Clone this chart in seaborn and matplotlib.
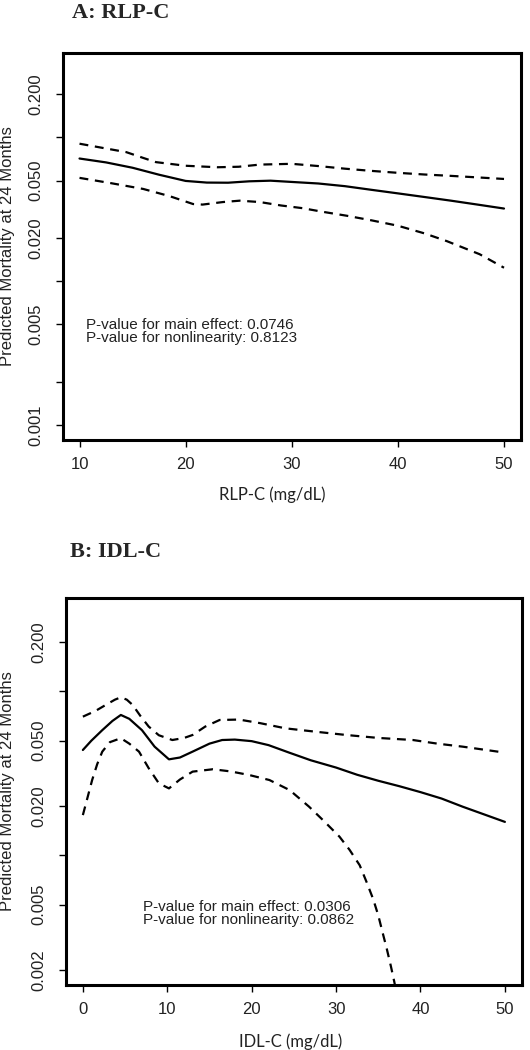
import numpy as np
import pandas as pd
import matplotlib
matplotlib.use('Agg')
import matplotlib.pyplot as plt
import seaborn as sns

# Panel A: RLP-C spline (estimate and 95% band)
rlp_x = [10, 12.5, 15, 17.5, 20, 22, 24, 26, 28, 30, 32.5, 35, 37.5, 40, 42.5, 45, 47.5, 50]
rlp_fit = [0.0713, 0.067, 0.0615, 0.055, 0.0498, 0.0485, 0.0484, 0.0495, 0.0500, 0.0490,
           0.0478, 0.0458, 0.0432, 0.0408, 0.0385, 0.0363, 0.0341, 0.032]
rlp_up_x = [10, 12, 14.4, 16, 17.2, 20, 23, 25, 27, 30, 32.5, 35, 37.5, 40, 42.5, 45, 47.5, 50]
rlp_up = [0.0904, 0.085, 0.079, 0.072, 0.0673, 0.0635, 0.062, 0.0625, 0.0647, 0.0655,
          0.0632, 0.0606, 0.0585, 0.0567, 0.0552, 0.054, 0.0527, 0.0514]
rlp_lo_x = [10, 13, 16, 18.5, 20.7, 21.6, 23.5, 25.1, 27, 29, 31, 33, 35.2, 37.5, 40, 42.5,
            44.6, 47.7, 50]
rlp_lo = [0.0523, 0.048, 0.0438, 0.039, 0.0344, 0.0341, 0.0355, 0.0363, 0.0355, 0.0336,
          0.0322, 0.0303, 0.0285, 0.0265, 0.0243, 0.0215, 0.019, 0.0154, 0.0124]

# Panel B: IDL-C spline
idl_x = [0, 1, 2.3, 3.5, 4.5, 5.5, 7.0, 8.5, 10.2, 11.5, 13, 15, 16.5, 18, 20, 22, 24.5,
         27, 30, 32.5, 35, 37.5, 40, 42.5, 45, 47.5, 50]
idl_fit = [0.0439, 0.050, 0.058, 0.066, 0.0718, 0.068, 0.058, 0.046, 0.0385, 0.0395, 0.0429,
           0.048, 0.0505, 0.0508, 0.0497, 0.047, 0.0422, 0.038, 0.0343, 0.031, 0.0285,
           0.0264, 0.0243, 0.0222, 0.0198, 0.0178, 0.016]
idl_up_x = [0, 1.5, 2.7, 3.8, 4.5, 5.2, 5.9, 6.8, 7.8, 9, 10.6, 12, 13, 14.5, 16.2, 18.5,
            21, 24, 27.5, 31.2, 35, 39.1, 42, 45, 50]
idl_up = [0.0701, 0.076, 0.0826, 0.089, 0.092, 0.089, 0.0826, 0.071, 0.061, 0.054, 0.0505,
          0.052, 0.0542, 0.061, 0.0669, 0.0673, 0.064, 0.0595, 0.0568, 0.0542, 0.052,
          0.0505, 0.048, 0.046, 0.0423]
idl_lo_x = [0, 0.5, 1.1, 1.7, 2.3, 3.2, 4.5, 5.5, 6.65, 7.8, 9.0, 10.2, 11.5, 13, 15.4,
            17.5, 19.7, 22.1, 24.5, 26.8, 28.5, 30.4, 31.6, 32.8, 33.6, 34.4, 35.0, 35.5,
            36.0, 36.5, 36.9, 37.1]
idl_lo = [0.0176, 0.022, 0.0288, 0.036, 0.0429, 0.049, 0.0518, 0.048, 0.0429, 0.034, 0.0275,
          0.0256, 0.029, 0.0324, 0.0335, 0.0325, 0.0309, 0.0288, 0.025, 0.0198, 0.0163,
          0.013, 0.0108, 0.0087, 0.0069, 0.0054, 0.0043, 0.0034, 0.0027, 0.0021, 0.00169,
          0.0015]

ticks_a = [0.001, 0.002, 0.005, 0.01, 0.02, 0.05, 0.1, 0.2]
labels_a = ['0.001', '', '0.005', '', '0.020', '0.050', '', '0.200']
ticks_b = [0.002, 0.005, 0.01, 0.02, 0.05, 0.1, 0.2]
labels_b = ['0.002', '0.005', '', '0.020', '0.050', '', '0.200']

sns.set_style('white')
plt.rcParams['font.family'] = ['Liberation Sans', 'DejaVu Sans']

fig = plt.figure(figsize=(5.3, 10.5), dpi=100)
ax_a = fig.add_axes([0.118, 0.581, 0.865, 0.3686])
ax_b = fig.add_axes([0.1245, 0.0619, 0.860, 0.3686])


def draw_panel(ax, x, fit, up_x, up, lo_x, lo):
    sns.lineplot(x=x, y=fit, ax=ax, color='black', lw=1.6, sort=False)
    sns.lineplot(x=up_x, y=up, ax=ax, color='black', lw=1.6, sort=False, dashes=False,
                 linestyle=(0, (4, 3)))
    sns.lineplot(x=lo_x, y=lo, ax=ax, color='black', lw=1.6, sort=False, dashes=False,
                 linestyle=(0, (4, 3)))
    ax.set_yscale('log')
    for s in ax.spines.values():
        s.set_visible(True)
        s.set_color('black')
        s.set_linewidth(2.2)
    ax.tick_params(axis='both', which='major', direction='out', length=5, width=1,
                   color='black', labelsize=12, labelcolor='#222222', left=True, bottom=True)
    ax.tick_params(axis='x', pad=7)
    ax.tick_params(axis='y', pad=9)
    ax.minorticks_off()


draw_panel(ax_a, rlp_x, rlp_fit, rlp_up_x, rlp_up, rlp_lo_x, rlp_lo)
ax_a.set_xlim(8.4, 51.6)
ax_a.set_ylim(0.000786, 0.387)
ax_a.set_xticks([10, 20, 30, 40, 50])
ax_a.set_yticks(ticks_a, labels_a, rotation=90, va='center')
ax_a.minorticks_off()
ax_a.set_ylabel('Predicted Mortality at 24 Months', fontsize=12, color='#222222')
ax_a.yaxis.set_label_coords(-0.104, 0.5)
ax_a.set_xlabel('')
ax_a.text(0.051, 0.28, 'P-value for main effect: 0.0746\nP-value for nonlinearity: 0.8123',
          transform=ax_a.transAxes, ha='left', va='center', fontsize=11,
          linespacing=0.85, color='#222222')

draw_panel(ax_b, idl_x, idl_fit, idl_up_x, idl_up, idl_lo_x, idl_lo)
ax_b.set_xlim(-2, 52)
ax_b.set_ylim(0.00162, 0.371)
ax_b.set_xticks([0, 10, 20, 30, 40, 50])
ax_b.set_yticks(ticks_b, labels_b, rotation=90, va='center')
ax_b.minorticks_off()
ax_b.set_ylabel('Predicted Mortality at 24 Months', fontsize=12, color='#222222')
ax_b.yaxis.set_label_coords(-0.112, 0.5)
ax_b.set_xlabel('')
ax_b.text(0.169, 0.185, 'P-value for main effect: 0.0306\nP-value for nonlinearity: 0.0862',
          transform=ax_b.transAxes, ha='left', va='center', fontsize=11,
          linespacing=0.85, color='#222222')

fig.text(0.136, 0.9876, 'A: RLP-C', family='Liberation Serif', weight='bold',
         fontsize=16, ha='left', va='center')
fig.text(0.132, 0.4743, 'B: IDL-C', family='Liberation Serif', weight='bold',
         fontsize=16, ha='left', va='center')
fig.text(0.513, 0.5286, 'RLP-C (mg/dL)', family=['Lato', 'DejaVu Sans'], fontsize=12,
         ha='center', va='center', color='#222222')
fig.text(0.549, 0.0076, 'IDL-C (mg/dL)', family=['Lato', 'DejaVu Sans'], fontsize=12,
         ha='center', va='center', color='#222222')

fig.savefig('out.png', dpi=100, facecolor='white')
